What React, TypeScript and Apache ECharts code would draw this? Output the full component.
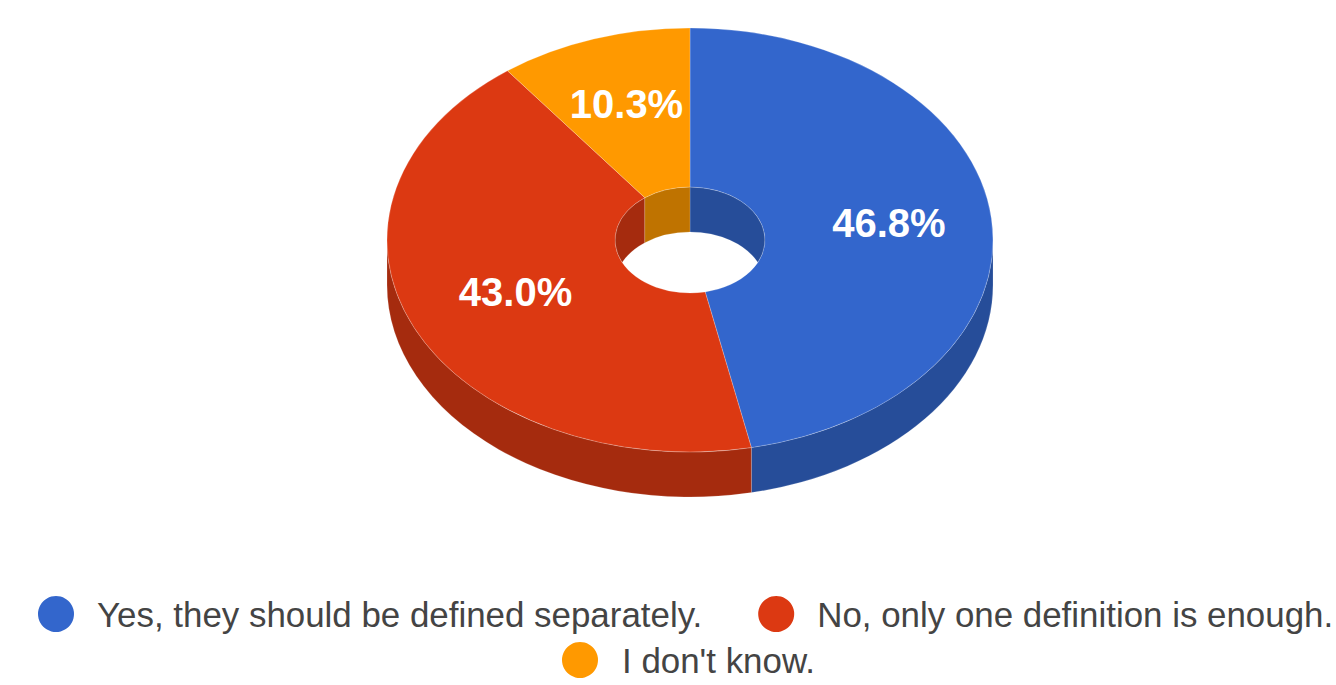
import React, { useEffect, useRef } from "react";
import * as echarts from "echarts";

const categories = ["Yes, they should be defined separately.", "No, only one definition is enough.", "I don't know."];
const shares = [46.8, 43.0, 10.3];
const labels = ["46.8%", "43.0%", "10.3%"];
const labelRadius = [0.66, 0.632, 0.66];
const topColors = ["#3366cc", "#dc3912", "#ff9900"];
const wallColors = ["#264d99", "#a52b0e", "#bf7300"];

const CX = 690, CY = 240, RX = 303, RY = 212, IRX = 75, IRY = 53, DEPTH = 45;
const TWO_PI = Math.PI * 2;
const total = shares.reduce((a, b) => a + b, 0);
const cuts: number[] = [0];
shares.forEach((s, i) => cuts.push(cuts[i] + (s / total) * TWO_PI));

const pt = (rx: number, ry: number, t: number, dy = 0) => [CX + rx * Math.sin(t), CY - ry * Math.cos(t) + dy];
const fmt = (p: number[]) => `${p[0].toFixed(2)} ${p[1].toFixed(2)}`;
const arc = (rx: number, ry: number, a: number, b: number, dy = 0) => {
  const e = pt(rx, ry, b, dy);
  return `A ${rx} ${ry} 0 ${Math.abs(b - a) > Math.PI ? 1 : 0} ${b > a ? 1 : 0} ${fmt(e)}`;
};

const topFace = (a: number, b: number) =>
  `M ${fmt(pt(RX, RY, a))} ${arc(RX, RY, a, b)} L ${fmt(pt(IRX, IRY, b))} ${arc(IRX, IRY, b, a)} Z`;

// outer wall shows only on the front half (90deg .. 270deg)
const outerWall = (a: number, b: number) => {
  const s = Math.max(a, Math.PI / 2), e = Math.min(b, (3 * Math.PI) / 2);
  if (e <= s) return "";
  return `M ${fmt(pt(RX, RY, s))} ${arc(RX, RY, s, e)} L ${fmt(pt(RX, RY, e, DEPTH))} ${arc(RX, RY, e, s, DEPTH)} Z`;
};

// inner wall shows through the hole, down to the lower rim of the hole
const innerWall = (a0: number, b0: number) => {
  const h = DEPTH / 2 / IRY;
  const lim = Math.PI - Math.acos(h); // on the upper rim
  const limLow = Math.acos(h); // on the lower rim
  const parts: string[] = [];
  [[a0, b0], [a0 - TWO_PI, b0 - TWO_PI]].forEach(([a, b]) => {
    const s = Math.max(a, -lim), e = Math.min(b, lim);
    if (e <= s) return;
    const sl = Math.max(a, -limLow), el = Math.min(b, limLow);
    let d = `M ${fmt(pt(IRX, IRY, s))} ${arc(IRX, IRY, s, e)} L ${fmt(pt(IRX, IRY, el, DEPTH))}`;
    if (el > sl) d += ` ${arc(IRX, IRY, el, sl, DEPTH)}`;
    parts.push(d + " Z");
  });
  return parts.join(" ");
};

const seriesFor = (i: number) => ({
  type: "custom",
  name: categories[i],
  coordinateSystem: "none",
  data: [shares[i]],
  silent: true,
  itemStyle: { color: topColors[i] },
  renderItem: () => {
    const a = cuts[i], b = cuts[i + 1];
    const mid = (a + b) / 2;
    const lp = pt(RX * labelRadius[i], RY * labelRadius[i], mid);
    const edge = "rgba(255,255,255,0.28)";
    const children: any[] = [];
    const ow = outerWall(a, b);
    if (ow) children.push({ type: "path", shape: { pathData: ow }, style: { fill: wallColors[i], stroke: edge, lineWidth: 0.6 } });
    const iw = innerWall(a, b);
    if (iw) children.push({ type: "path", shape: { pathData: iw }, style: { fill: wallColors[i], stroke: edge, lineWidth: 0.6 } });
    children.push({ type: "path", shape: { pathData: topFace(a, b) }, style: { fill: topColors[i], stroke: edge, lineWidth: 0.8 } });
    children.push({
      type: "text",
      x: lp[0],
      y: lp[1] - 3,
      style: {
        text: labels[i],
        fill: "#ffffff",
        font: 'bold 40px "Liberation Sans", Arial, sans-serif',
        align: "center",
        verticalAlign: "middle",
      },
    });
    return { type: "group", children };
  },
});

const legendText = { fontFamily: '"Liberation Sans", Arial, sans-serif', fontSize: 34.9, color: "#444444" };

export default function App() {
  const ref = useRef<HTMLDivElement>(null);
  useEffect(() => {
    document.body.style.margin = "0";
    const chart = echarts.init(ref.current!, undefined, { renderer: "svg" });
    chart.setOption({
      animation: false,
      backgroundColor: "#ffffff",
      legend: [
        { data: categories.slice(0, 2), left: 38, top: 596, width: 1500, padding: 0, icon: "circle", itemWidth: 36, itemHeight: 36, itemGap: 56, textStyle: { ...legendText, padding: [0, 0, 0, 18] }, selectedMode: false },
        { data: categories.slice(2), left: 562, top: 642, padding: 0, icon: "circle", itemWidth: 36, itemHeight: 36, textStyle: { ...legendText, padding: [0, 0, 0, 19] }, selectedMode: false },
      ],
      series: categories.map((_, i) => seriesFor(i)),
    });
    return () => chart.dispose();
  }, []);
  return <div ref={ref} style={{ width: 1336, height: 685, position: "absolute", left: 0, top: 0, overflow: "hidden" }} />;
}
